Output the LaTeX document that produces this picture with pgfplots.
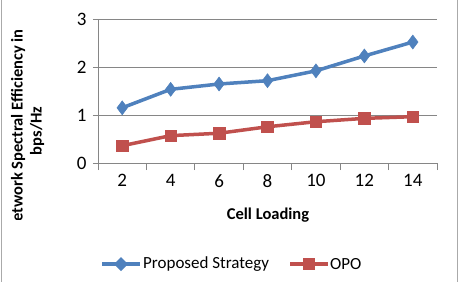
\documentclass[border=0pt]{standalone}
\usepackage{pgfplots}
\pgfplotsset{compat=1.18}
\usepackage{fontspec}
\setmainfont{Carlito}
\definecolor{xlblue}{RGB}{79,129,189}
\definecolor{xlred}{RGB}{192,80,77}
\definecolor{xlgrey}{RGB}{134,134,134}
\begin{document}
\begin{tikzpicture}[x=1pt,y=1pt]
\useasboundingbox (0,0) rectangle (464,-282);
\fill[white] (0,0) rectangle (464,-282);
\draw[xlgrey!70, line width=1.5pt] (1.5,0) -- (1.5,-282);
\draw[xlgrey!70, line width=1.5pt] (457.5,0) -- (457.5,-282);
\begin{axis}[
  at={(98pt,-163pt)}, anchor=south west,
  scale only axis, width=339pt, height=144pt,
  xmin=1, xmax=15, ymin=0, ymax=3,
  xtick={2,4,...,14}, ytick={0,1,2,3},
  minor xtick={1,3,...,15},
  major x tick style={draw=none},
  minor x tick style={draw=xlgrey, line width=0.8pt},
  minor tick length=7pt,
  y tick style={draw=xlgrey, line width=0.8pt},
  major tick length=5pt,
  tick align=outside,
  axis x line*=bottom, axis y line*=left,
  axis line style={draw=xlgrey, line width=0.8pt, -},
  ymajorgrids, grid style={draw=xlgrey, line width=0.8pt},
  /pgf/number format/assume math mode=true,
  ticklabel style={font=\fontsize{19}{21}\selectfont, text=black},
  xticklabel style={yshift=-3pt},
  yticklabel style={xshift=-3pt},
  clip=false,
]
\addplot[xlblue, line width=3.5pt, mark=diamond*, mark size=7pt,
  mark options={fill=xlblue, draw=xlblue, line width=0.5pt}]
  coordinates {(2,1.15) (4,1.535) (6,1.646) (8,1.715) (10,1.92) (12,2.23) (14,2.52)};
\addplot[xlred, line width=3.5pt, mark=square*, mark size=5.8pt,
  mark options={fill=xlred, draw=xlred, line width=0.5pt}]
  coordinates {(2,0.36) (4,0.57) (6,0.62) (8,0.755) (10,0.86) (12,0.93) (14,0.965)};
\end{axis}
\node[font=\bfseries\fontsize{16.5}{19}\selectfont] at (268,-215) {Cell Loading};
\begin{scope}
\clip (0,0) rectangle (60,-219);
\node[rotate=90, align=center, font=\bfseries\fontsize{16.5}{19}\selectfont] at (27.5,-131)
  {Network Spectral Efficiency in\\bps/Hz};
\end{scope}
% legend
\draw[xlblue, line width=3.5pt] (102,-264) -- (140,-264);
\fill[xlblue] (121,-257) -- (128,-264) -- (121,-271) -- (114,-264) -- cycle;
\node[anchor=west, font=\fontsize{17}{19}\selectfont, inner sep=0pt] at (143,-264) {Proposed Strategy};
\draw[xlred, line width=3.5pt] (290,-264) -- (328,-264);
\fill[xlred] (303,-258) rectangle (315,-270);
\node[anchor=west, font=\fontsize{17}{19}\selectfont, inner sep=0pt] at (330,-264) {OPO};
\end{tikzpicture}
\end{document}
